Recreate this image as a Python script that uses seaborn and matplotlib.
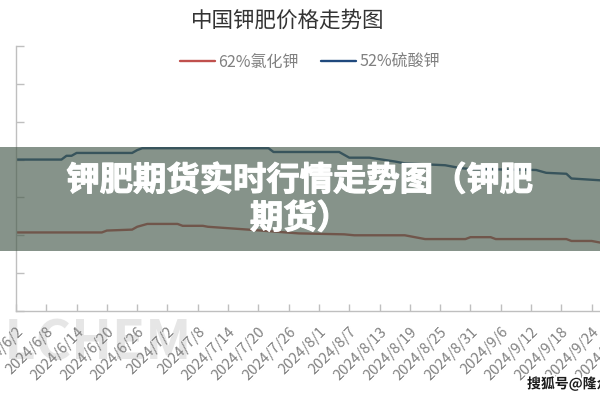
import matplotlib
matplotlib.use("Agg")
import matplotlib.pyplot as plt
import matplotlib.patheffects as pe
from matplotlib.patches import Rectangle
import seaborn as sns
import pandas as pd

# ---- data ----
kcl_name = "62%氯化钾"
kcl_dates = ["2024-06-02", "2024-06-19", "2024-06-20", "2024-06-25", "2024-06-26",
             "2024-06-28", "2024-07-04", "2024-07-05", "2024-07-09", "2024-07-10",
             "2024-07-18", "2024-07-28", "2024-08-06", "2024-08-08", "2024-08-18",
             "2024-08-21", "2024-08-22", "2024-08-30", "2024-08-31", "2024-09-04",
             "2024-09-05", "2024-09-19", "2024-09-20", "2024-09-24", "2024-09-26"]
kcl_values = [2415, 2415, 2425, 2430, 2445,
              2460, 2460, 2450, 2450, 2445,
              2430, 2410, 2405, 2400, 2400,
              2385, 2380, 2380, 2390, 2390,
              2380, 2380, 2370, 2370, 2360]

sop_name = "52%硫酸钾"
sop_dates = ["2024-06-02", "2024-06-11", "2024-06-12", "2024-06-13", "2024-06-14",
             "2024-06-25", "2024-06-26", "2024-06-27", "2024-07-22", "2024-07-23",
             "2024-08-05", "2024-08-06", "2024-08-07", "2024-08-11", "2024-08-16",
             "2024-08-18", "2024-08-26", "2024-08-29", "2024-08-31", "2024-09-13",
             "2024-09-15", "2024-09-19", "2024-09-20", "2024-09-26"]
sop_values = [2800, 2800, 2820, 2820, 2835,
              2835, 2850, 2860, 2860, 2840,
              2840, 2825, 2810, 2810, 2790,
              2780, 2770, 2755, 2750, 2745,
              2730, 2725, 2700, 2690]

series_colors = {kcl_name: "#C0504D", sop_name: "#1F497D"}

tick_dates = pd.date_range("2024-06-02", "2024-09-30", freq="6D")
tick_labels = [f"{d.year}/{d.month}/{d.day}" for d in tick_dates]
y_ticks = list(range(2000, 3401, 200))

title_text = "中国钾肥价格走势图"
banner_line1 = "钾肥期货实时行情走势图（钾肥"
banner_line2 = "期货）"
watermark_text = "搜狐号@隆众资讯"
bg_watermark = "OILCHEM"

# ---- build table ----
df = pd.concat([
    pd.DataFrame({"date": pd.to_datetime(kcl_dates), "price": kcl_values, "series": kcl_name}),
    pd.DataFrame({"date": pd.to_datetime(sop_dates), "price": sop_values, "series": sop_name}),
], ignore_index=True)

sns.set_theme(style="white")
plt.rcParams["font.family"] = ["Noto Sans CJK SC", "DejaVu Sans"]
plt.rcParams["axes.unicode_minus"] = False

W, H = 600, 400
fig = plt.figure(figsize=(6, 4), dpi=100)
ax = fig.add_axes([16 / W, 89 / H, (627 - 16) / W, 265 / H])

sns.lineplot(data=df, x="date", y="price", hue="series", hue_order=[kcl_name, sop_name],
             palette=series_colors, linewidth=1.7, ax=ax)

start = pd.Timestamp("2024-06-02")
ax.set_xlim(start, start + pd.Timedelta(days=121))
ax.set_ylim(y_ticks[0], y_ticks[-1])
ax.set_yticks(y_ticks)
ax.set_xticks(tick_dates)
ax.set_xticklabels(tick_labels, rotation=45, ha="right", rotation_mode="anchor",
                   color="#808080", fontsize=10.5)
ax.tick_params(axis="y", direction="in", length=6, color="#bfbfbf", width=1, left=True,
               labelleft=False)
ax.tick_params(axis="x", direction="in", length=5, color="#bfbfbf", width=1, bottom=True,
               pad=10)
ax.set_xlabel("")
ax.set_ylabel("")
for s in ["top", "right"]:
    ax.spines[s].set_visible(False)
for s in ["left", "bottom"]:
    ax.spines[s].set_color("#bfbfbf")
    ax.spines[s].set_linewidth(1)

sns.move_legend(ax, "center", bbox_to_anchor=(310 / W, 1 - 62 / H),
                bbox_transform=fig.transFigure, ncol=2, frameon=False, title=None,
                fontsize=11.5, handlelength=2.2, handletextpad=0.2, columnspacing=1.4,
                labelcolor="#808080")

fig.text(288 / W, 1 - 21 / H, title_text, ha="center", va="center", fontsize=15.5,
         color="#333333")

# faint background watermark behind tick labels
fig.text(-55 / W, 1 - 343 / H, bg_watermark, ha="left", va="center", fontsize=39,
         fontweight="bold", color="#e6e6e6", zorder=-1)

# overlay banner
fig.add_artist(Rectangle((0, 1 - 251 / H), 1, 104 / H, transform=fig.transFigure,
                         facecolor=(70 / 255, 90 / 255, 75 / 255), alpha=0.65,
                         edgecolor="none", zorder=5))
heavy = [pe.withStroke(linewidth=0.8, foreground="white")]
fig.text(300 / W, 1 - 181 / H, banner_line1, ha="center", va="center", fontsize=24,
         fontweight="black", color="white", zorder=6, path_effects=heavy)
fig.text(300 / W, 1 - 219 / H, banner_line2, ha="center", va="center", fontsize=24,
         fontweight="black", color="white", zorder=6, path_effects=heavy)

fig.text(527 / W, 1 - 384 / H, watermark_text, ha="left", va="center", fontsize=10,
         fontweight="bold", color="#1a1a1a", zorder=7,
         path_effects=[pe.withStroke(linewidth=2.5, foreground="white")])

fig.savefig("out.png", dpi=100)
